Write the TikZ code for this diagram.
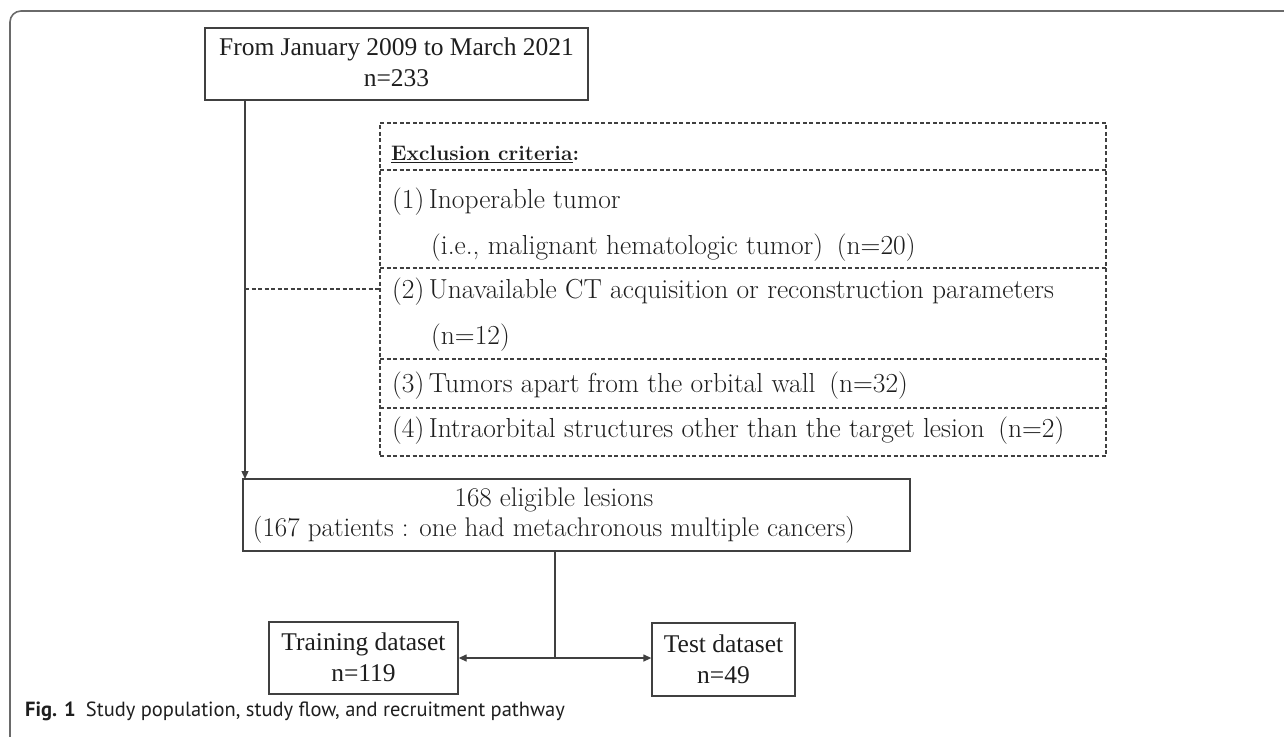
\documentclass[tikz,border=0pt]{standalone}
\usepackage{fontspec}
\newfontfamily\tnr{Liberation Serif}
\newfontfamily\capfont{PT Sans}
\usetikzlibrary{arrows.meta}
\definecolor{ln}{HTML}{404040}
\definecolor{frm}{HTML}{6A6A6A}
\definecolor{tx}{HTML}{1E1E1E}
\begin{document}
\begin{tikzpicture}[x=1pt,y=-1pt,
  box/.style={draw=ln, line width=1.3pt, rectangle, inner sep=0pt, align=center, text=tx},
  dbox/.style={draw=ln, line width=1.2pt, dash pattern=on 4pt off 2.5pt},
  conn/.style={draw=ln, line width=1.3pt},
  arr/.style={conn, -{Triangle[length=8pt,width=7pt]}},
  ttext/.style={font=\tnr\fontsize{25.5}{31}\selectfont, text=tx, align=center, inner sep=0pt},
  ltext/.style={font=\fontsize{27.5}{30}\selectfont, text=tx, anchor=west, inner sep=0pt},
  etext/.style={font=\fontsize{27}{30}\selectfont, text=tx, align=center, inner sep=0pt}]
\useasboundingbox (0,0) rectangle (1284,736);
% outer frame
\draw[frm, line width=1.6pt, rounded corners=11pt] (10,740) -- (10,11) -- (1290,11);
% top box
\node[box, minimum width=383pt, minimum height=72pt] (top) at (396.5,64) {};
\node[ttext] (toptext) at (396.5,62) {From January 2009 to March 2021\\n=233};
% exclusion box
\node[dbox, rectangle, minimum width=726pt, minimum height=333pt, inner sep=0pt] (excl) at (743,289.5) {};
\coordinate (s1l) at (380,170); \coordinate (s1r) at (1106,170);
\coordinate (s2l) at (380,268); \coordinate (s2r) at (1106,268);
\coordinate (s3l) at (380,359); \coordinate (s3r) at (1106,359);
\coordinate (s4l) at (380,408); \coordinate (s4r) at (1106,408);
\draw[dbox] (s1l) -- (s1r);
\draw[dbox] (s2l) -- (s2r);
\draw[dbox] (s3l) -- (s3r);
\draw[dbox] (s4l) -- (s4r);
\node[ltext, font=\bfseries\fontsize{21}{28}\selectfont] (hdr) at (391,154) {\underline{Exclusion criteria}:};
\node[ltext] (c1a) at (392,202) {(1)\,Inoperable tumor};
\node[ltext] (c1b) at (431,248) {(i.e., malignant hematologic tumor)\enspace(n=20)};
\node[ltext] (c2a) at (392,292) {(2)\,Unavailable CT acquisition or reconstruction parameters};
\node[ltext] (c2b) at (431,338) {(n=12)};
\node[ltext] (c3) at (392,386) {(3)\,Tumors apart from the orbital wall\enspace(n=32)};
\node[ltext] (c4) at (392,431) {(4)\,Intraorbital structures other than the target lesion\enspace(n=2)};
% eligible box
\node[box, minimum width=667pt, minimum height=72pt] (elig) at (576.5,515) {};
\node[etext] (eligtext) at (554,515) {168 eligible lesions\\(167 patients : one had metachronous multiple cancers)};
% datasets
\node[box, minimum width=189pt, minimum height=72pt] (train) at (363.5,658) {};
\node[ttext] (traintext) at (363.5,657) {Training\ dataset\\n=119};
\node[box, minimum width=143pt, minimum height=73pt] (test) at (723.5,659.5) {};
\node[ttext] (testtext) at (723.5,659) {Test dataset\\n=49};
% connectors
\coordinate (trunktop) at (245,100);
\coordinate (trunkbot) at (245,479);
\coordinate (branch) at (245,289);
\coordinate (split) at (555,658);
\coordinate (splittop) at (555,551);
\draw[arr] (trunktop) -- (trunkbot);
\draw[dbox] (branch) -- (branch -| excl.west);
\draw[conn] (splittop) -- (split);
\draw[arr] (split) -- (split -| train.east);
\draw[arr] (split) -- (split -| test.west);
% caption
\node[anchor=base west, inner sep=0pt, text=tx, font=\capfont\fontsize{20.5}{24}\selectfont] (cap) at (25,716) {\textbf{Fig. 1}\enspace Study population, study flow, and recruitment pathway};
\end{tikzpicture}
\end{document}
